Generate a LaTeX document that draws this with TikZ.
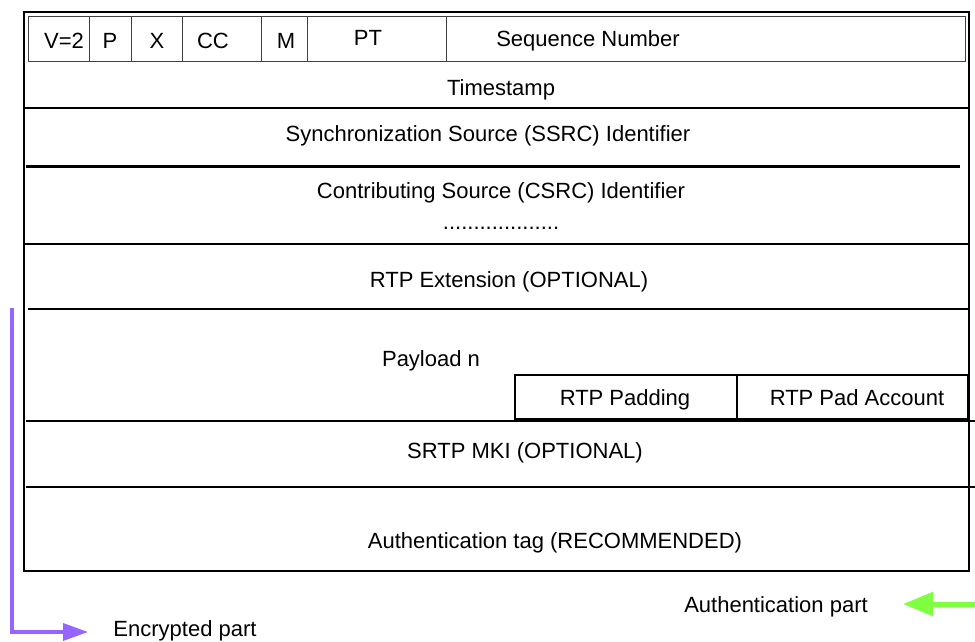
\documentclass[tikz,border=0pt]{standalone}
\usepackage{fontspec}
\setmainfont{Liberation Sans}
\usetikzlibrary{arrows.meta}
\definecolor{encpurple}{RGB}{150,100,255}
\definecolor{authgreen}{RGB}{128,255,64}
\begin{document}
\begin{tikzpicture}[x=1pt,y=-1pt,
  field/.style={font=\fontsize{22}{26}\selectfont, inner sep=0pt, anchor=base},
  frame/.style={line width=1.6pt},
  thinframe/.style={line width=1pt, draw=black!75},
  padframe/.style={line width=1.3pt},
  rule/.style={line width=3pt}]
\useasboundingbox (0,0) rectangle (975,641);
\fill[white] (0,0) rectangle (975,641);

% outer frame of the SRTP packet
\draw[frame] (24,12) rectangle (969,571);

% header word: V, P, X, CC, M, PT, sequence number
\draw[thinframe] (28,16) rectangle (965,61);
\foreach \xx in {89,131,182,261,307,446}
  \draw[thinframe] (\xx,16) -- (\xx,61);

% row separators
\draw[frame] (24,108) -- (969,108);
\draw[rule] (26,166) -- (960,166);
\draw[frame] (24,244) -- (969,244);
\draw[frame] (28,309) -- (969,309);
\draw[frame] (26,421) -- (975,421);
\draw[frame] (26,487) -- (975,487);

% padding fields at the end of the payload
\draw[padframe] (515,375) rectangle (968,419);
\draw[padframe] (737,375) -- (737,419);

% field labels
\node[field] (v)   at (64,48)  {V=2};
\node[field] (p)   at (110,48) {P};
\node[field] (x)   at (157,48) {X};
\node[field] (cc)  at (213,48) {CC};
\node[field] (m)   at (286,48) {M};
\node[field] (pt)  at (368,45) {PT};
\node[field] (seq) at (588,46) {Sequence Number};
\node[field] (ts)  at (501,95) {Timestamp};
\node[field] (ssrc) at (488,141) {Synchronization Source (SSRC) Identifier};
\node[field] (csrc) at (501,198) {Contributing Source (CSRC) Identifier};
\node[field] (dots) at (501,229) {...................};
\node[field] (ext) at (509,287) {RTP Extension (OPTIONAL)};
\node[field] (payload) at (431,366) {Payload n};
\node[field] (pad) at (625,405) {RTP Padding};
\node[field] (padacc) at (857,405) {RTP Pad Account};
\node[field] (mki) at (525,458) {SRTP MKI (OPTIONAL)};
\node[field] (auth) at (555,548) {Authentication tag (RECOMMENDED)};

% legend
\node[field] (authl) at (776,612) {Authentication part};
\node[field] (encl)  at (185,636) {Encrypted part};

\coordinate (encTop) at (12,308);
\coordinate (encCorner) at (12,632);
\coordinate (encTip) at (88,632);
\draw[encpurple, line width=3.5pt, -{Triangle[length=25pt,width=17pt]}]
  (encTop) -- (encCorner) -- (encTip);

\coordinate (authStart) at (975,604);
\coordinate (authTip) at (903,604);
\draw[authgreen, line width=5pt, -{Triangle[length=30pt,width=23pt]}]
  (authStart) -- (authTip);
\end{tikzpicture}
\end{document}
